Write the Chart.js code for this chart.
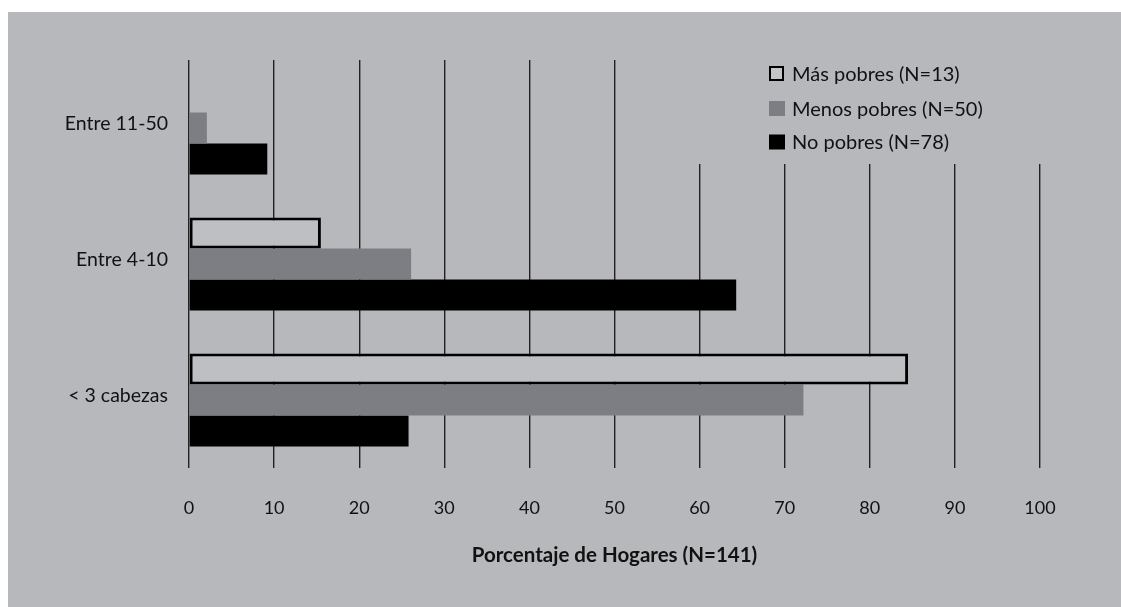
<!DOCTYPE html>
<html>
<head>
<meta charset="utf-8">
<script src="https://cdn.jsdelivr.net/npm/chart.js@4.4.1/dist/chart.umd.min.js"></script>
<style>
  html, body { margin: 0; padding: 0; background: #ffffff; }
  #wrap { position: absolute; left: 8px; top: 12px; width: 1113px; height: 595px; background: #b7b8bc; }
</style>
</head>
<body>
<div id="wrap"><canvas id="c" width="1113" height="595"></canvas></div>
<script>
const categories = ['Entre 11-50', 'Entre 4-10', '< 3 cabezas'];
const seriesNames = ['Más pobres (N=13)', 'Menos pobres (N=50)', 'No pobres (N=78)'];
const masPobres = [0, 15.5, 84.5];
const menosPobres = [2.1, 26.1, 72.2];
const noPobres = [9.2, 64.3, 25.8];
const xTicks = [0, 10, 20, 30, 40, 50, 60, 70, 80, 90, 100];
const xTitle = 'Porcentaje de Hogares (N=141)';

const FONT = 'Lato, "Open Sans", sans-serif';
const BG = '#b7b8bc';

const legendPlugin = {
  id: 'customLegend',
  beforeDatasetsDraw(chart) {
    // legend panel hides the grid lines behind it
    const ctx = chart.ctx;
    const a = chart.chartArea;
    ctx.save();
    ctx.fillStyle = BG;
    ctx.fillRect(a.left + 470, a.top - 5, 400, 109);
    ctx.restore();
  },
  afterDraw(chart) {
    const ctx = chart.ctx;
    const a = chart.chartArea;
    const bx = a.left + 580;
    const ys = [a.top + 13.5, a.top + 48.5, a.top + 82];
    ctx.save();
    ctx.font = '20px ' + FONT;
    ctx.textBaseline = 'middle';
    ctx.textAlign = 'left';
    chart.data.datasets.forEach((ds, i) => {
      const y = ys[i];
      if (ds.borderWidth > 0) {
        ctx.fillStyle = '#c4c5c8';
        ctx.fillRect(bx, y - 7.5, 15, 15);
        ctx.strokeStyle = '#000';
        ctx.lineWidth = 2;
        ctx.strokeRect(bx + 1, y - 6.5, 13, 13);
      } else {
        ctx.fillStyle = ds.backgroundColor;
        ctx.fillRect(bx, y - 7.5, 16, 15);
      }
      ctx.fillStyle = '#111';
      ctx.fillText(ds.label, bx + 23, y + 1);
    });
    ctx.restore();
  }
};

new Chart(document.getElementById('c'), {
  type: 'bar',
  data: {
    labels: categories,
    datasets: [
      { label: seriesNames[0], data: masPobres, backgroundColor: '#bebfc2', borderColor: '#000000', borderWidth: 3, borderSkipped: false },
      { label: seriesNames[1], data: menosPobres, backgroundColor: '#7d7e83', borderWidth: 0 },
      { label: seriesNames[2], data: noPobres, backgroundColor: '#000000', borderWidth: 0 }
    ]
  },
  options: {
    indexAxis: 'y',
    responsive: false,
    animation: false,
    devicePixelRatio: 1,
    layout: { padding: { left: 0, top: 48, right: 81, bottom: 0 } },
    datasets: { bar: { categoryPercentage: 0.684, barPercentage: 1.0 } },
    plugins: { legend: { display: false }, tooltip: { enabled: false } },
    scales: {
      x: {
        type: 'linear',
        min: 0, max: 100,
        afterBuildTicks(scale) { scale.ticks = xTicks.map(v => ({ value: v })); },
        afterFit(scale) { scale.height = 139; },
        grid: { color: '#222222', lineWidth: 1.4, drawTicks: false },
        border: { display: false },
        ticks: { padding: 29, color: '#111', font: { family: FONT, size: 18 } },
        title: { display: true, text: xTitle, color: '#111', font: { family: FONT, size: 20.5, weight: 'bold' }, padding: { top: 0, bottom: 39 } }
      },
      y: {
        afterFit(scale) { scale.width = 181; },
        grid: { display: false, drawTicks: false },
        border: { display: false },
        ticks: { padding: 21, labelOffset: -4, color: '#111', font: { family: FONT, size: 19.5 } }
      }
    }
  },
  plugins: [legendPlugin]
});
</script>
</body>
</html>
